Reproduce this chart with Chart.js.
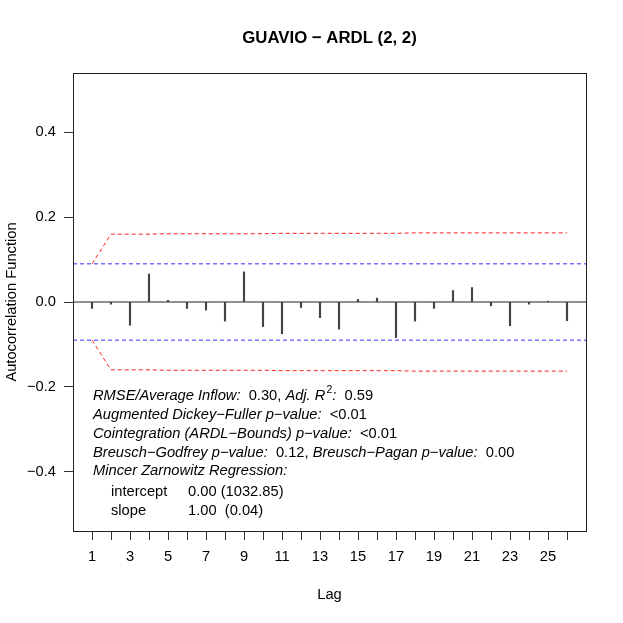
<!DOCTYPE html>
<html>
<head>
<meta charset="utf-8">
<script src="https://cdn.jsdelivr.net/npm/chart.js@4/dist/chart.umd.min.js"></script>
<style>
  html, body { margin: 0; padding: 0; background: #fff; }
  canvas { display: block; }
</style>
</head>
<body>
<canvas id="acf" width="623" height="623"></canvas>
<script>
// residual ACF values
const lags = [1, 2, 3, 4, 5, 6, 7, 8, 9, 10, 11, 12, 13, 14, 15, 16, 17, 18, 19, 20, 21, 22, 23, 24, 25, 26];
const acfValues = [-0.015, -0.005, -0.055, 0.066, 0.004, -0.015, -0.019, -0.045, 0.071, -0.058, -0.075, -0.013, -0.037,
                   -0.064, 0.006, 0.009, -0.084, -0.045, -0.015, 0.027, 0.034, -0.009, -0.056, -0.005, 0.002, -0.044];
// bartlett band (red) and white-noise band (blue)
const bartlett = [0.090, 0.160, 0.160, 0.160, 0.161, 0.161, 0.161, 0.161, 0.161, 0.161, 0.162, 0.162, 0.162,
                  0.162, 0.162, 0.162, 0.162, 0.163, 0.163, 0.163, 0.163, 0.163, 0.163, 0.163, 0.163, 0.163];
const whiteNoise = 0.09;
const yTicks = [-0.4, -0.2, 0, 0.2, 0.4];
const xRange = [0, 27];
const yRange = [-0.54, 0.54];

const chartTitle = 'GUAVIO \u2212 ARDL (2, 2)';
const statLines = [
  [['RMSE/Average Inflow:', 'i'], ['  0.30, ', 'n'], ['Adj. R', 'i'], ['2', 'sup'], [':', 'i'], ['  0.59', 'n']],
  [['Augmented Dickey\u2212Fuller p\u2212value:', 'i'], ['  <0.01', 'n']],
  [['Cointegration (ARDL\u2212Bounds) p\u2212value:', 'i'], ['  <0.01', 'n']],
  [['Breusch\u2212Godfrey p\u2212value:', 'i'], ['  0.12, ', 'n'], ['Breusch\u2212Pagan p\u2212value:', 'i'], ['  0.00', 'n']],
  [['Mincer Zarnowitz Regression:', 'i']]
];
const mzRows = [['intercept', '0.00 (1032.85)'], ['slope', '1.00  (0.04)']];

const FONT = '"Liberation Sans", Arial, Helvetica, sans-serif';
const FS = 14.7;

const fmt = v => (Math.abs(v) < 1e-9 ? '0.0' : v.toFixed(1)).replace('-', '\u2212');

const decor = {
  id: 'decor',
  afterDraw(chart) {
    const {ctx, chartArea: a} = chart;
    ctx.save();
    ctx.strokeStyle = '#222';
    ctx.lineWidth = 1;
    ctx.strokeRect(a.left + 0.5, a.top + 0.5, a.right - a.left, a.bottom - a.top);

    ctx.fillStyle = '#000';
    ctx.textAlign = 'center';
    ctx.textBaseline = 'middle';
    ctx.font = 'bold 16.8px ' + FONT;
    ctx.fillText(chartTitle, (a.left + a.right) / 2, 38);

    ctx.textAlign = 'left';
    const ys = [396, 414.5, 433.5, 452.5, 471];
    statLines.forEach((parts, i) => {
      let x = 93;
      parts.forEach(([txt, kind]) => {
        if (kind === 'sup') {
          ctx.font = '10.5px ' + FONT;
          ctx.fillText(txt, x + 1, ys[i] - 6);
          x += ctx.measureText(txt).width + 1;
        } else {
          ctx.font = (kind === 'i' ? 'italic ' : '') + FS + 'px ' + FONT;
          ctx.fillText(txt, x, ys[i]);
          x += ctx.measureText(txt).width;
        }
      });
    });
    ctx.font = FS + 'px ' + FONT;
    [492, 510.5].forEach((y, i) => {
      ctx.fillText(mzRows[i][0], 111, y);
      ctx.fillText(mzRows[i][1], 188, y);
    });
    ctx.restore();
  }
};

new Chart(document.getElementById('acf'), {
  data: {
    datasets: [
      {
        type: 'bar',
        data: lags.map((l, i) => ({x: l, y: acfValues[i]})),
        backgroundColor: '#444',
        barThickness: 1.5,
        order: 3
      },
      {
        type: 'line',
        data: [{x: xRange[0], y: 0}, {x: xRange[1], y: 0}],
        borderColor: '#222',
        borderWidth: 1,
        pointRadius: 0,
        order: 2
      },
      {
        type: 'line',
        data: [{x: xRange[0], y: whiteNoise}, {x: xRange[1], y: whiteNoise}],
        borderColor: '#3030ff',
        borderWidth: 1,
        borderDash: [4, 3],
        pointRadius: 0,
        order: 1
      },
      {
        type: 'line',
        data: [{x: xRange[0], y: -whiteNoise}, {x: xRange[1], y: -whiteNoise}],
        borderColor: '#3030ff',
        borderWidth: 1,
        borderDash: [4, 3],
        pointRadius: 0,
        order: 1
      },
      {
        type: 'line',
        data: lags.map((l, i) => ({x: l, y: bartlett[i]})),
        borderColor: '#ff2020',
        borderWidth: 1,
        borderDash: [4, 3],
        pointRadius: 0,
        order: 0
      },
      {
        type: 'line',
        data: lags.map((l, i) => ({x: l, y: -bartlett[i]})),
        borderColor: '#ff2020',
        borderWidth: 1,
        borderDash: [4, 3],
        pointRadius: 0,
        order: 0
      }
    ]
  },
  options: {
    responsive: false,
    animation: false,
    layout: {padding: {top: 73, right: 37, left: 0, bottom: 0}},
    plugins: {legend: {display: false}, tooltip: {enabled: false}, title: {display: false}},
    scales: {
      x: {
        type: 'linear',
        offset: false,
        min: xRange[0],
        max: xRange[1],
        afterFit(s) { s.height = 92; },
        afterBuildTicks(s) { s.ticks = lags.map(v => ({value: v})); },
        border: {display: false},
        grid: {offset: false, drawOnChartArea: false, drawTicks: true, tickLength: 9, color: '#333'},
        ticks: {
          autoSkip: false, maxRotation: 0, padding: 8, color: '#000',
          font: {family: FONT, size: FS},
          callback: v => (v % 2 === 1 ? String(v) : '')
        },
        title: {display: true, text: 'Lag', color: '#000', font: {family: FONT, size: FS}, padding: {top: 0, bottom: 19.2}}
      },
      y: {
        type: 'linear',
        min: yRange[0],
        max: yRange[1],
        afterFit(s) { s.width = 73; },
        afterBuildTicks(s) { s.ticks = yTicks.map(v => ({value: v})); },
        border: {display: false},
        grid: {drawOnChartArea: false, drawTicks: true, tickLength: 9, color: '#333'},
        ticks: {padding: 8, color: '#000', font: {family: FONT, size: FS}, callback: v => fmt(v)},
        title: {display: true, text: 'Autocorrelation Function', color: '#000', font: {family: FONT, size: FS}, padding: {top: 3.2, bottom: 0}}
      }
    }
  },
  plugins: [decor]
});
</script>
</body>
</html>
